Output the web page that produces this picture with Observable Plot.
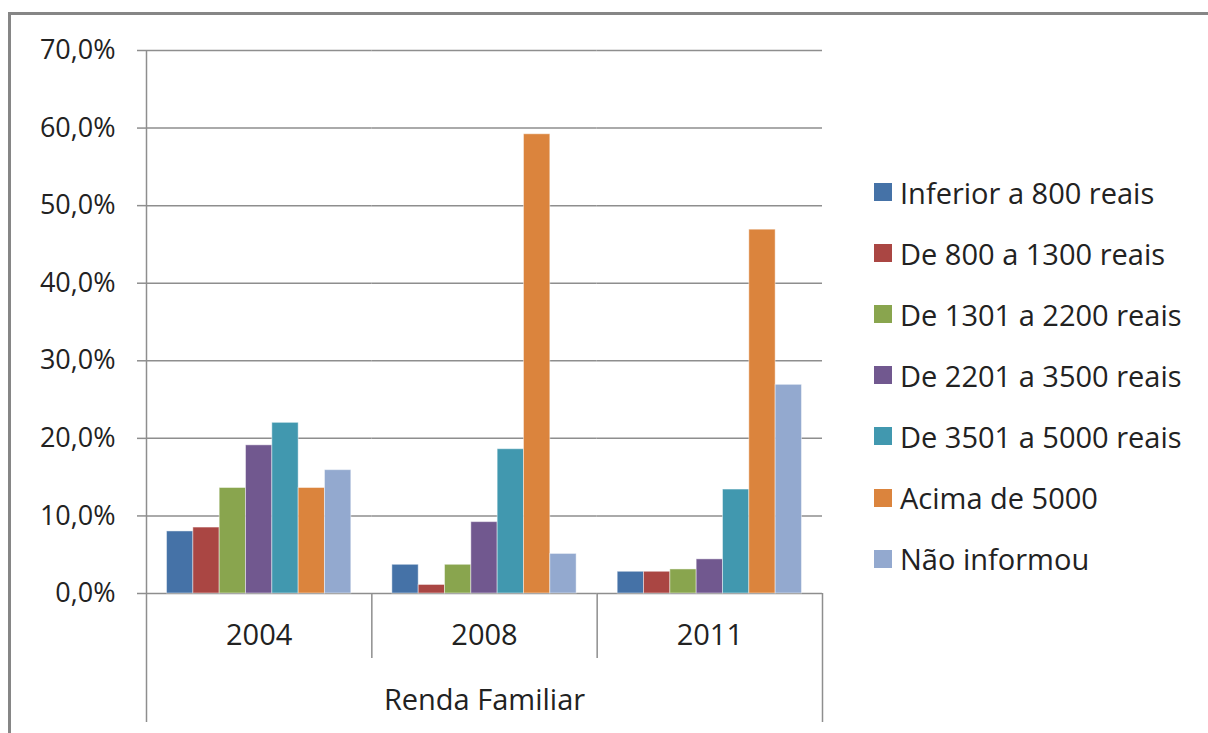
<!DOCTYPE html>
<html><head><meta charset="utf-8">
<script src="https://cdn.jsdelivr.net/npm/d3@7"></script>
<script src="https://cdn.jsdelivr.net/npm/@observablehq/plot@0.6"></script>
<style>
html,body{margin:0;padding:0;background:#fff;overflow:hidden;width:1208px;height:733px;}
#wrap{position:relative;width:1208px;height:733px;}
#chart{position:absolute;left:0;top:0;}
#border{position:absolute;left:8px;top:12px;width:1400px;height:900px;border:3px solid #868686;box-sizing:border-box;pointer-events:none;}
#legend{position:absolute;left:874px;top:0;font-family:"Open Sans",sans-serif;font-size:29px;color:#222;}
.item{position:absolute;left:0;display:flex;align-items:center;white-space:nowrap;height:34px;}
.sw{width:18px;height:18px;margin-right:8px;flex:none;}
</style></head>
<body><div id="wrap"><div id="chart"></div><div id="legend"></div><div id="border"></div></div>
<script>
// ---- data ----
const years = ["2004", "2008", "2011"];
const series = [
  "Inferior a 800 reais",
  "De 800 a 1300 reais",
  "De 1301 a 2200 reais",
  "De 2201 a 3500 reais",
  "De 3501 a 5000 reais",
  "Acima de 5000",
  "Não informou"
];
const inferior800 = [8.0, 3.7, 2.8];
const de800a1300 = [8.5, 1.1, 2.8];
const de1301a2200 = [13.6, 3.7, 3.1];
const de2201a3500 = [19.1, 9.2, 4.4];
const de3501a5000 = [22.0, 18.6, 13.4];
const acima5000 = [13.6, 59.2, 46.9];
const naoInformou = [15.9, 5.1, 26.9];
const yTicks = [0, 10, 20, 30, 40, 50, 60, 70];
const colors = ["#4572A7", "#AA4643", "#89A54E", "#71588F", "#4198AF", "#DB843D", "#93A9CF"];
const axisTitle = "Renda Familiar";

const valueLists = [inferior800, de800a1300, de1301a2200, de2201a3500, de3501a5000, acima5000, naoInformou];
const table = years.flatMap((yr, j) => series.map((s, k) => ({year: yr, series: s, value: valueLists[k][j]})));

const fmt = d => d.toFixed(1).replace(".", ",") + "%";
const gridColor = "#8e8e8e";
const padOuter = 0.78;
const facetW = (1208 - 146 - 386) / years.length;
const step = facetW / (series.length + 2 * padOuter);
const edge = (0.5 + padOuter) * step;

const chart = Plot.plot({
  width: 1208,
  height: 733,
  marginLeft: 146,
  marginRight: 386,
  marginTop: 50,
  marginBottom: 140,
  style: {fontFamily: "'Open Sans', sans-serif", fontSize: "28px", color: "#222", background: "transparent"},
  fx: {domain: years, padding: 0, round: false, label: null},
  x: {domain: series, paddingInner: 0, paddingOuter: padOuter, round: false, axis: null},
  y: {domain: [0, 70], label: null},
  color: {domain: series, range: colors},
  marks: [
    Plot.ruleY(yTicks, {stroke: gridColor, strokeWidth: 1.5}),
    Plot.barY(table, {fx: "year", x: "series", y: "value", fill: "series", stroke: "white", strokeOpacity: 0.45, strokeWidth: 1}),
    Plot.ruleX([years[0]], {fx: d => d, x: () => series[0], dx: -edge, insetBottom: -129, stroke: gridColor, strokeWidth: 1.5}),
    Plot.ruleX(years.slice(1), {fx: d => d, x: () => series[0], dx: -edge, insetTop: 543, insetBottom: -65, stroke: gridColor, strokeWidth: 1.5}),
    Plot.ruleX([years[years.length - 1]], {fx: d => d, x: () => series[series.length - 1], dx: edge, insetTop: 543, insetBottom: -129, stroke: gridColor, strokeWidth: 1.5}),
    Plot.axisY({anchor: "left", ticks: yTicks, tickFormat: fmt, tickSize: 9, tickPadding: 22, fontSize: 27, stroke: gridColor, strokeWidth: 1.5, fill: "#222", label: null}),
    Plot.axisFx({anchor: "bottom", tickSize: 0, tickPadding: 31, fontSize: 29, fill: "#222", label: null}),
    Plot.text([axisTitle], {fx: () => years[1], frameAnchor: "bottom", lineAnchor: "top", dy: 96, fontSize: 29, fill: "#222"})
  ]
});
document.getElementById("chart").appendChild(chart);

// ---- legend ----
const legend = document.getElementById("legend");
series.forEach((s, i) => {
  const item = document.createElement("div");
  item.className = "item";
  item.style.top = (192 + 61.1 * i - 17) + "px";
  const sw = document.createElement("span");
  sw.className = "sw";
  sw.style.background = colors[i];
  const tx = document.createElement("span");
  tx.textContent = s;
  item.appendChild(sw);
  item.appendChild(tx);
  legend.appendChild(item);
});
</script></body></html>
